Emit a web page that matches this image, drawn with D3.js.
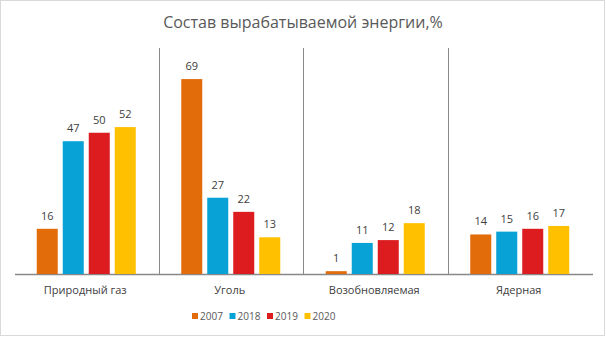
<!DOCTYPE html>
<html><head><meta charset="utf-8">
<script src="https://cdn.jsdelivr.net/npm/d3@7"></script>
<style>body{margin:0;background:#fff}svg{display:block}text{font-family:"Open Sans","Liberation Sans",sans-serif}</style>
</head><body>
<svg id="c" width="606" height="337"></svg>
<script>
const title = "Состав вырабатываемой энергии,%";
const categories = ["Природный газ", "Уголь", "Возобновляемая", "Ядерная"];
const years = ["2007", "2018", "2019", "2020"];
const v2007 = [16, 69, 1, 14];
const v2018 = [47, 27, 11, 15];
const v2019 = [50, 22, 12, 16];
const v2020 = [52, 13, 18, 17];
const colors = ["#E36C0A", "#08A2D6", "#DC1C1F", "#FFC000"];
const yMax = 80;

const series = [v2007, v2018, v2019, v2020];
const svg = d3.select("#c");
svg.append("rect").attr("x",0.5).attr("y",0.5).attr("width",604).attr("height",335)
  .attr("fill","#fff").attr("stroke","#d9d9d9");

const x0 = d3.scaleBand().domain(categories).range([14, 592]);
const x1 = d3.scaleBand().domain(years).range([-52, 52]).paddingInner(0.192).paddingOuter(0.096);
const y = d3.scaleLinear().domain([0, yMax]).range([274, 48]);

// separators
svg.selectAll("line.sep").data(categories.slice(1)).enter().append("line")
  .attr("x1", d => Math.round(x0(d)) + 0.5).attr("x2", d => Math.round(x0(d)) + 0.5)
  .attr("y1", y(yMax)).attr("y2", y(0)).attr("stroke", "#888").attr("stroke-width", 1);
svg.append("line").attr("x1", 15).attr("x2", 593).attr("y1", y(0)+0.5).attr("y2", y(0)+0.5)
  .attr("stroke", "#888").attr("stroke-width", 1.5);

const g = svg.append("g");
years.forEach((yr, si) => {
  categories.forEach((cat, ci) => {
    const val = series[si][ci];
    const cx = x0(cat) + x0.bandwidth()/2;
    const bx = cx + x1(yr);
    g.append("rect").attr("x", bx).attr("y", y(val)).attr("width", x1.bandwidth())
      .attr("height", y(0) - y(val)).attr("fill", colors[si]);
    g.append("text").attr("x", bx + x1.bandwidth()/2).attr("y", y(val) - 9)
      .attr("text-anchor", "middle").attr("font-size", 11).attr("fill", "#404040").text(val);
  });
});

svg.selectAll("text.cat").data(categories).enter().append("text")
  .attr("x", d => x0(d) + x0.bandwidth()/2 - 1).attr("y", 294)
  .attr("text-anchor", "middle").attr("font-size", 11).attr("fill", "#404040").text(d => d);

svg.append("text").attr("x", 303).attr("y", 28).attr("text-anchor", "middle")
  .attr("font-size", 16).attr("fill", "#595959").text(title);

// legend
const lg = svg.append("g");
years.forEach((yr, i) => {
  const lx = 192 + i * 37.5;
  lg.append("rect").attr("x", lx).attr("y", 313).attr("width", 6).attr("height", 6).attr("fill", colors[i]);
  lg.append("text").attr("x", lx + 8).attr("y", 320).attr("font-size", 10).attr("fill", "#595959").text(yr);
});
</script>
</body></html>
